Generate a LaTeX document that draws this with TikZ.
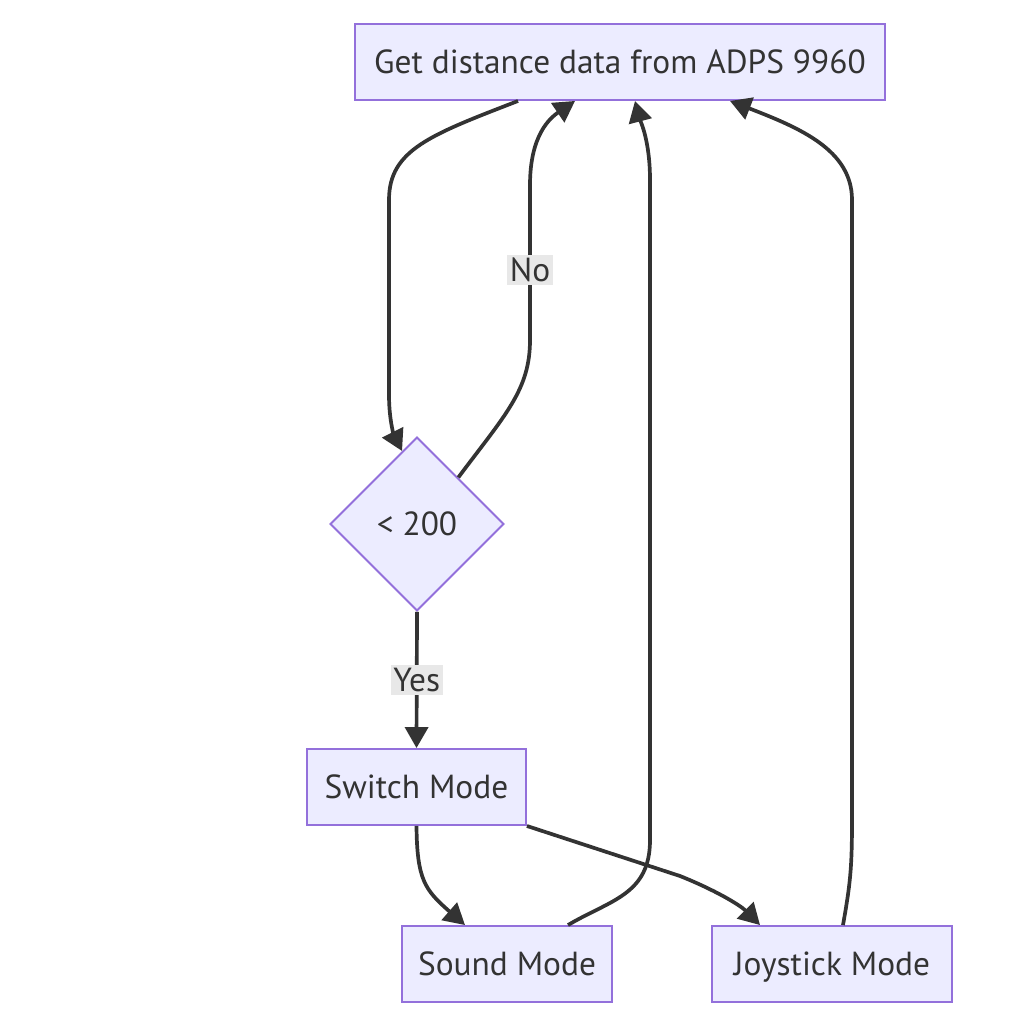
\documentclass[tikz,border=0pt]{standalone}
\usepackage{fontspec}
\setmainfont{PT Sans}
\usepackage{tikz}
\usetikzlibrary{positioning,arrows.meta,calc,shapes.geometric}
\definecolor{boxfill}{HTML}{ECECFF}
\definecolor{boxline}{HTML}{9370DB}
\definecolor{ink}{HTML}{333333}
\definecolor{lblbg}{HTML}{E8E8E8}
\tikzset{
  box/.style={draw=boxline, fill=boxfill, line width=1.1pt, minimum height=1.52cm,
    inner sep=0pt, font=\fontsize{19}{22}\selectfont, text=ink, text height=16pt, text depth=2.6pt},
  decision/.style={box, diamond, minimum width=3.48cm, minimum height=3.48cm, aspect=1},
  arr/.style={ink, line width=2.1pt, -{Triangle[length=0.42cm,width=0.46cm]}},
  lbl/.style={fill=lblbg, inner sep=1.5pt, font=\fontsize{19}{22}\selectfont, text=ink}
}

\begin{document}
\begin{tikzpicture}[x=0.02cm, y=-0.02cm]
  \useasboundingbox[fill=white] (0,0) rectangle (1030,1014);
  % nodes
  \node[box, minimum width=10.6cm] (get) at (620,62) {Get distance data from ADPS 9960};
  \node[decision] (dec) at (417,524) {< 200};
  \node[box, minimum width=4.38cm] (sw) at (416.5,787) {Switch Mode};
  \node[box, minimum width=4.2cm] (sound) at (507,964) {Sound Mode};
  \node[box, minimum width=4.8cm] (joy) at (832,964) {Joystick Mode};
  % read distance -> check
  \draw[arr] ([xshift=-2.04cm]get.south) .. controls (430,135) and (389,150) .. (389,200)
    -- (389,395) .. controls (389,420) and (394,435) .. ($(dec.north)!0.17!(dec.west)$);
  % too far, read again
  \draw[arr] ($(dec.north)!0.47!(dec.east)$) .. controls (505,415) and (530,390) .. (530,340)
    -- (530,185) .. controls (530,135) and (550,118) .. ([xshift=-0.9cm]get.south);
  \node[lbl] (no) at (530,270) {No};
  % close enough
  \draw[arr] (dec.south) -- (sw.north) node[lbl, midway] (yes) {Yes};
  % switch to one of the modes
  \draw[arr] (sw.south) .. controls (417,880) and (425,890) .. ([xshift=-0.84cm]sound.north);
  \draw[arr] (sw.south east) -- (680,876) .. controls (715,890) and (740,905) .. ([xshift=-1.44cm]joy.north);
  % back to reading
  \draw[arr] ([xshift=1.22cm]sound.north) .. controls (610,900) and (650,895) .. (650,840)
    -- (650,180) .. controls (650,140) and (640,120) .. ([xshift=0.3cm]get.south);
  \draw[arr] ([xshift=0.22cm]joy.north) .. controls (850,885) and (852,870) .. (852,820)
    -- (852,200) .. controls (852,150) and (800,128) .. ([xshift=2.2cm]get.south);
\end{tikzpicture}
\end{document}
